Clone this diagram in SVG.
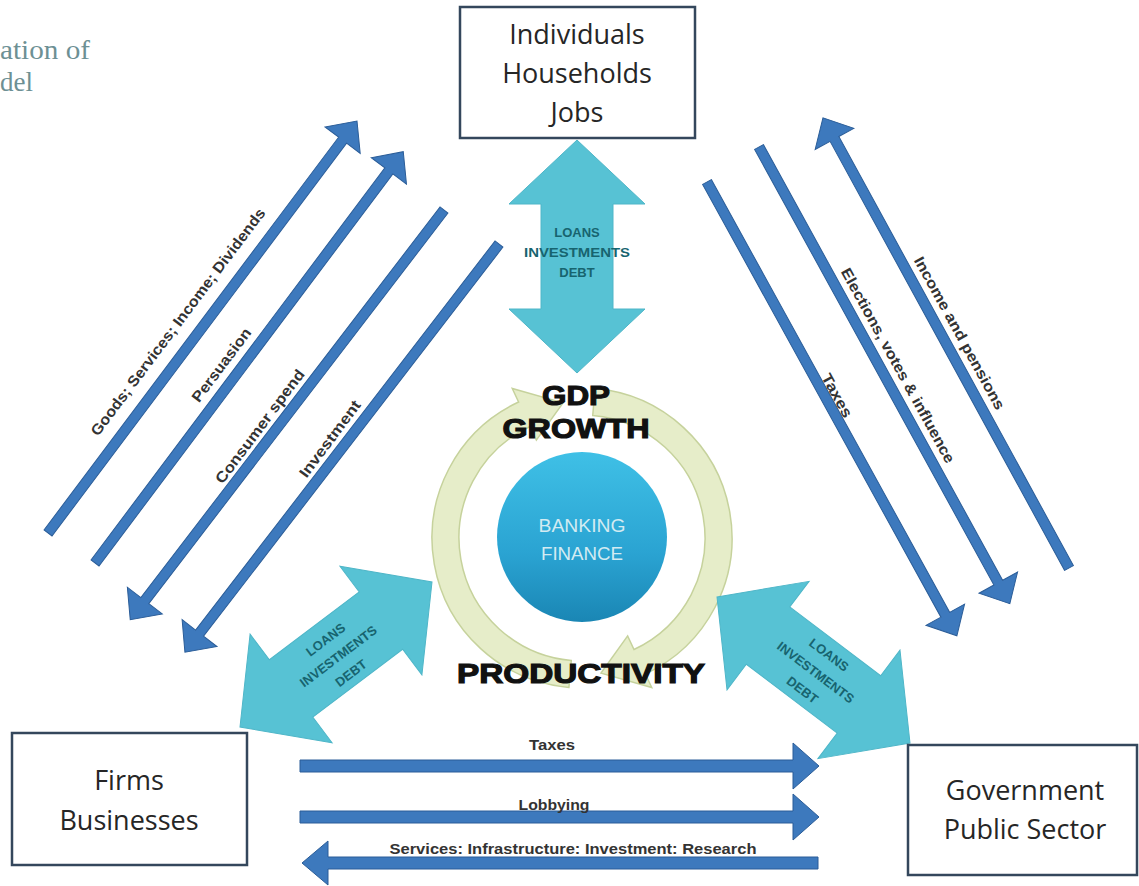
<svg xmlns="http://www.w3.org/2000/svg" width="1139" height="886" viewBox="0 0 1139 886">
<style>
  .box{fill:#ffffff;stroke:#34475c;stroke-width:2.5}
  .boxtxt{font-family:"Open Sans","Liberation Sans",sans-serif;font-size:27px;fill:#262626;text-anchor:middle}
  .blue{fill:#3d79bd;stroke:#2b5d98;stroke-width:1}
  .cyan{fill:#57c2d4;stroke:#4fb6c8;stroke-width:1}
  .lbl{font-family:"Liberation Sans",Arial,sans-serif;font-weight:bold;font-size:15px;fill:#333333;text-anchor:middle}
  .clbl{font-family:"Liberation Sans",Arial,sans-serif;font-weight:bold;font-size:13px;fill:#17646f;text-anchor:middle}
  .big{font-family:"Liberation Sans",Arial,sans-serif;font-weight:bold;font-size:28px;fill:#111;stroke:#111;stroke-width:1.2;text-anchor:middle}
  .ring{fill:#e6edc9;stroke:#c6d29c;stroke-width:1.5}
  .title{font-family:"Liberation Serif","Times New Roman",serif;font-size:27px;fill:#6d9094}
</style>
<defs>
  <linearGradient id="bankGrad" x1="0" y1="0" x2="0" y2="1">
    <stop offset="0" stop-color="#3fc0e6"/>
    <stop offset="0.6" stop-color="#2aa3d2"/>
    <stop offset="1" stop-color="#1a86b4"/>
  </linearGradient>
</defs>
<rect width="1139" height="886" fill="#ffffff"/>

<g id="title">
  <text class="title" x="0" y="59" textLength="90" lengthAdjust="spacingAndGlyphs">ation of</text>
  <text class="title" x="0" y="91" textLength="33" lengthAdjust="spacingAndGlyphs">del</text>
</g>

<g id="cycle">
  <path class="ring" d="M568.93,687.43 A150,150 0 0 1 518.61,402.05 L512.27,388.46 L563.0,402.83 L536.36,440.12 L530.02,426.52 A123,123 0 0 0 571.28,660.53 Z"/>
  <path class="ring" d="M595.07,388.57 A150,150 0 0 1 645.39,673.95 L651.73,687.54 L601.0,673.17 L627.64,635.88 L633.98,649.48 A123,123 0 0 0 592.72,415.47 Z"/>
</g>

<g id="banking">
  <circle cx="582" cy="537" r="85" fill="url(#bankGrad)"/>
  <text x="582" y="532" font-family="Liberation Sans, Arial, sans-serif" font-size="18" fill="#d3ebf2" text-anchor="middle" textLength="87" lengthAdjust="spacingAndGlyphs">BANKING</text>
  <text x="582" y="560" font-family="Liberation Sans, Arial, sans-serif" font-size="18" fill="#d3ebf2" text-anchor="middle" textLength="82" lengthAdjust="spacingAndGlyphs">FINANCE</text>
</g>

<g id="connectors">
  <g id="loans-households">
    <path class="cyan" transform="translate(577,256.5) rotate(90)" d="M-116.5,0 L-52.5,-68 L-52.5,-36 L52.5,-36 L52.5,-68 L116.5,0 L52.5,68 L52.5,36 L-52.5,36 L-52.5,68 Z"/>
    <text class="clbl" x="577" y="237">LOANS</text>
    <text class="clbl" x="577" y="257" textLength="106" lengthAdjust="spacingAndGlyphs">INVESTMENTS</text>
    <text class="clbl" x="577" y="277">DEBT</text>
  </g>
  <g id="loans-firms">
    <path class="cyan" transform="translate(336,654.5) rotate(-37.06)" d="M-120.3,0 L-56.3,-68 L-56.3,-36 L56.3,-36 L56.3,-68 L120.3,0 L56.3,68 L56.3,36 L-56.3,36 L-56.3,68 Z"/>
    <g transform="translate(338,656) rotate(-37.06)">
      <text class="clbl" x="0" y="-16">LOANS</text>
      <text class="clbl" x="0" y="5">INVESTMENTS</text>
      <text class="clbl" x="0" y="26">DEBT</text>
    </g>
  </g>
  <g id="loans-government">
    <path class="cyan" transform="translate(813.5,670) rotate(37.11)" d="M-121,0 L-57,-68 L-57,-36 L57,-36 L57,-68 L121,0 L57,68 L57,36 L-57,36 L-57,68 Z"/>
    <g transform="translate(816,672) rotate(37.11)">
      <text class="clbl" x="0" y="-17">LOANS</text>
      <text class="clbl" x="0" y="5">INVESTMENTS</text>
      <text class="clbl" x="0" y="27">DEBT</text>
    </g>
  </g>

  <path class="blue" transform="translate(48,533) rotate(-53.13)" d="M0,-5 H491 V-22 L515,0 L491,22 V5 H0 Z"/>
  <path class="blue" transform="translate(95,563) rotate(-53.15)" d="M0,-5 H490 V-22 L514,0 L490,22 V5 H0 Z"/>
  <path class="blue" transform="translate(444,210) rotate(127.45)" d="M0,-5 H492 V-22 L516,0 L492,22 V5 H0 Z"/>
  <path class="blue" transform="translate(499,244) rotate(127.58)" d="M0,-5 H491 V-22 L515,0 L491,22 V5 H0 Z"/>
  <text class="lbl" transform="translate(182,325) rotate(-53.13)" textLength="280" lengthAdjust="spacingAndGlyphs">Goods; Services; Income; Dividends</text>
  <text class="lbl" transform="translate(225.5,368) rotate(-53.13)" textLength="88" lengthAdjust="spacingAndGlyphs">Persuasion</text>
  <text class="lbl" transform="translate(264,429.5) rotate(-53.13)" textLength="138" lengthAdjust="spacingAndGlyphs">Consumer spend</text>
  <text class="lbl" transform="translate(334,442) rotate(-53.13)" textLength="92" lengthAdjust="spacingAndGlyphs">Investment</text>

  <path class="blue" transform="translate(707,182) rotate(61.16)" d="M0,-5 H494 V-22 L518,0 L494,22 V5 H0 Z"/>
  <path class="blue" transform="translate(759,147) rotate(61.22)" d="M0,-5 H497 V-22 L521,0 L497,22 V5 H0 Z"/>
  <path class="blue" transform="translate(1069,568) rotate(-118.66)" d="M0,-5 H489 V-22 L513,0 L489,22 V5 H0 Z"/>
  <text class="lbl" transform="translate(832.5,398) rotate(61.2)" textLength="48" lengthAdjust="spacingAndGlyphs">Taxes</text>
  <text class="lbl" transform="translate(893.5,368) rotate(61.2)" textLength="220" lengthAdjust="spacingAndGlyphs">Elections, votes &amp; influence</text>
  <text class="lbl" transform="translate(955,335.5) rotate(61.2)" textLength="172" lengthAdjust="spacingAndGlyphs">Income and pensions</text>

  <path class="blue" d="M300,760 H793 V743 L819,766 L793,789 V772 H300 Z"/>
  <path class="blue" d="M300,811 H793 V794 L819,817 L793,840 V823 H300 Z"/>
  <path class="blue" d="M818,857 H328 V841 L302,863 L328,885 V869 H818 Z"/>
  <text class="lbl" x="552" y="750" textLength="46" lengthAdjust="spacingAndGlyphs">Taxes</text>
  <text class="lbl" x="554" y="810" textLength="71" lengthAdjust="spacingAndGlyphs">Lobbying</text>
  <text class="lbl" x="573" y="854" textLength="367" lengthAdjust="spacingAndGlyphs">Services: Infrastructure: Investment: Research</text>
</g>

<g id="gdp-growth">
  <text class="big" x="576" y="405" textLength="68" lengthAdjust="spacingAndGlyphs">GDP</text>
  <text class="big" x="576" y="438" textLength="147" lengthAdjust="spacingAndGlyphs">GROWTH</text>
</g>
<g id="productivity">
  <text class="big" x="581" y="683" textLength="248" lengthAdjust="spacingAndGlyphs">PRODUCTIVITY</text>
</g>

<g id="individuals">
  <rect class="box" x="460" y="7" width="235" height="131"/>
  <text class="boxtxt" x="577" y="44">Individuals</text>
  <text class="boxtxt" x="577" y="83">Households</text>
  <text class="boxtxt" x="577" y="122">Jobs</text>
</g>
<g id="firms">
  <rect class="box" x="12" y="733" width="235" height="132"/>
  <text class="boxtxt" x="129" y="790">Firms</text>
  <text class="boxtxt" x="129" y="830">Businesses</text>
</g>
<g id="government">
  <rect class="box" x="908" y="745" width="229" height="130"/>
  <text class="boxtxt" x="1025" y="800">Government</text>
  <text class="boxtxt" x="1025" y="839">Public Sector</text>
</g>
</svg>
